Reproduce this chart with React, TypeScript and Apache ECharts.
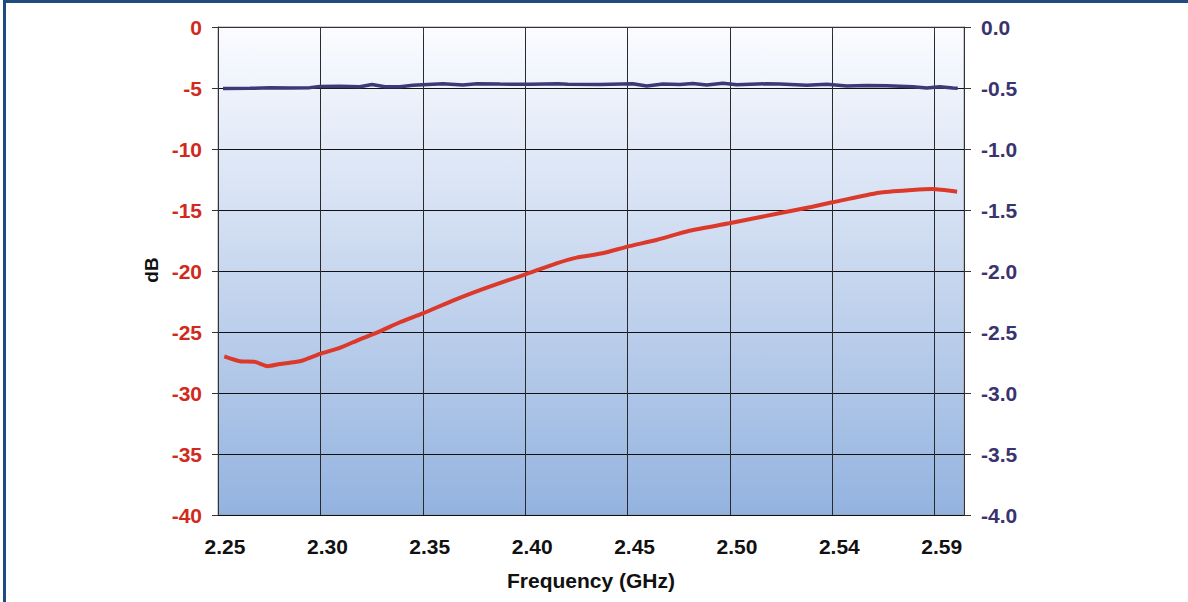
import React, { useEffect, useRef } from "react";
import * as echarts from "echarts";

// Frequency axis ticks (GHz) and their printed labels
const freqTicks = [2.25, 2.299, 2.348, 2.397, 2.446, 2.495, 2.544, 2.593];
const freqTickLabels = ["2.25", "2.30", "2.35", "2.40", "2.45", "2.50", "2.54", "2.59"];

// Left axis (dB) ticks
const dbMin = -40;
const dbMax = 0;
const dbStep = 5;
// Right axis ticks
const rightMin = -4;
const rightMax = 0;
const rightStep = 0.5;

// Red series: return loss (dB), left axis
const redFreq = [
  2.253, 2.2605, 2.2677, 2.2739, 2.2796, 2.2892, 2.2988, 2.3083, 2.3179, 2.3274,
  2.337, 2.348, 2.3642, 2.38, 2.3972, 2.412, 2.4216, 2.434, 2.446, 2.4598,
  2.4756, 2.4947, 2.5186, 2.5344, 2.544, 2.5664, 2.5822, 2.5918, 2.6037,
];
const redDb = [
  -27.0, -27.4, -27.45, -27.8, -27.62, -27.4, -26.8, -26.3, -25.6, -24.95,
  -24.2, -23.47, -22.3, -21.28, -20.27, -19.37, -18.9, -18.55, -18.0, -17.46,
  -16.7, -16.09, -15.27, -14.73, -14.37, -13.58, -13.36, -13.28, -13.5,
];

// Navy series: insertion loss, right axis
const blueFreq = [
  2.2524, 2.2653, 2.2749, 2.2844, 2.294, 2.2988, 2.3084, 2.3179, 2.3237, 2.3299,
  2.3371, 2.3433, 2.3576, 2.3672, 2.3739, 2.3849, 2.3993, 2.4127, 2.4174, 2.4327,
  2.4485, 2.4552, 2.4629, 2.471, 2.4772, 2.4839, 2.4916, 2.4983, 2.5126, 2.5189,
  2.5318, 2.5413, 2.5509, 2.5605, 2.57, 2.5825, 2.5892, 2.5954, 2.6016, 2.604,
];
const blueVal = [
  -0.505, -0.503, -0.498, -0.5, -0.497, -0.487, -0.485, -0.49, -0.472, -0.49,
  -0.49, -0.478, -0.465, -0.476, -0.466, -0.468, -0.47, -0.466, -0.47, -0.472,
  -0.465, -0.484, -0.468, -0.472, -0.463, -0.475, -0.461, -0.473, -0.465, -0.467,
  -0.478, -0.47, -0.484, -0.48, -0.482, -0.489, -0.5, -0.489, -0.5, -0.503,
];

const FONT = "'Liberation Sans', Arial, sans-serif";
const RED_TEXT = "#d12a1c";
const NAVY_TEXT = "#3a346e";

export default function App() {
  const ref = useRef<HTMLDivElement>(null);

  useEffect(() => {
    if (!ref.current) return;
    const chart = echarts.init(ref.current, null, { renderer: "svg" });
    const labelFor = (v: number) => {
      let best = 0;
      for (let i = 1; i < freqTicks.length; i++) {
        if (Math.abs(freqTicks[i] - v) < Math.abs(freqTicks[best] - v)) best = i;
      }
      return freqTickLabels[best];
    };
    chart.setOption({
      animation: false,
      backgroundColor: "#ffffff",
      grid: {
        left: 218,
        right: 224,
        top: 27,
        bottom: 87,
        show: true,
        borderColor: "#9a9a9a",
        borderWidth: 1,
        backgroundColor: new echarts.graphic.LinearGradient(0, 0, 0, 1, [
          { offset: 0, color: "#fbfcff" },
          { offset: 0.5, color: "#c8d7ef" },
          { offset: 1, color: "#93b3df" },
        ]),
      },
      xAxis: {
        type: "value",
        min: 2.25,
        max: 2.607,
        axisLine: { show: true, lineStyle: { color: "#333", width: 1 } },
        axisTick: {
          show: true,
          length: 7,
          customValues: freqTicks,
          lineStyle: { color: "#333" },
        },
        axisLabel: {
          customValues: freqTicks,
          formatter: (v: number) => labelFor(v),
          color: "#111",
          fontFamily: FONT,
          fontSize: 21,
          fontWeight: "bold",
          margin: 21,
          padding: [0, 0, 0, 14],
        },
        splitLine: { show: true, lineStyle: { color: "#2a2a2a", width: 1 } },
      },
      yAxis: [
        {
          type: "value",
          min: dbMin,
          max: dbMax,
          interval: dbStep,
          position: "left",
          axisLine: { show: true, lineStyle: { color: "#333", width: 1 } },
          axisTick: { show: true, length: 6, lineStyle: { color: "#333" } },
          axisLabel: {
            color: RED_TEXT,
            fontFamily: FONT,
            fontSize: 21,
            fontWeight: "bold",
            margin: 16,
          },
          splitLine: { show: true, lineStyle: { color: "#111", width: 1 } },
        },
        {
          type: "value",
          min: rightMin,
          max: rightMax,
          interval: rightStep,
          position: "right",
          axisLine: { show: true, lineStyle: { color: "#333", width: 1 } },
          axisTick: { show: true, length: 7, lineStyle: { color: "#333" } },
          axisLabel: {
            color: NAVY_TEXT,
            fontFamily: FONT,
            fontSize: 21,
            fontWeight: "bold",
            margin: 17,
            formatter: (v: number) => v.toFixed(1),
          },
          splitLine: { show: false },
        },
      ],
      series: [
        {
          type: "line",
          yAxisIndex: 1,
          data: blueFreq.map((f, i) => [f, blueVal[i]]),
          showSymbol: false,
          lineStyle: { color: "#3d3876", width: 3.5 },
          z: 3,
        },
        {
          type: "line",
          yAxisIndex: 0,
          data: redFreq.map((f, i) => [f, redDb[i]]),
          showSymbol: false,
          smooth: 0.2,
          lineStyle: { color: "#db3a2b", width: 4 },
          z: 4,
        },
      ],
      graphic: [
        { type: "rect", shape: { x: 3, y: 0, width: 1185, height: 3 }, style: { fill: "#1f4b7f" } },
        { type: "rect", shape: { x: 3, y: 0, width: 3, height: 602 }, style: { fill: "#1f4b7f" } },
        {
          type: "text",
          x: 591,
          y: 580,
          style: {
            text: "Frequency (GHz)",
            fontFamily: FONT,
            fontSize: 21,
            fontWeight: "bold",
            fill: "#111",
            textAlign: "center",
            textVerticalAlign: "middle",
          },
        },
        {
          type: "text",
          x: 151,
          y: 270,
          rotation: Math.PI / 2,
          style: {
            text: "dB",
            fontFamily: FONT,
            fontSize: 19,
            fontWeight: "bold",
            fill: "#111",
            textAlign: "center",
            textVerticalAlign: "middle",
          },
        },
      ],
    });
    return () => chart.dispose();
  }, []);

  return (
    <div
      ref={ref}
      style={{ position: "fixed", left: 0, top: 0, width: 1188, height: 602 }}
    />
  );
}
